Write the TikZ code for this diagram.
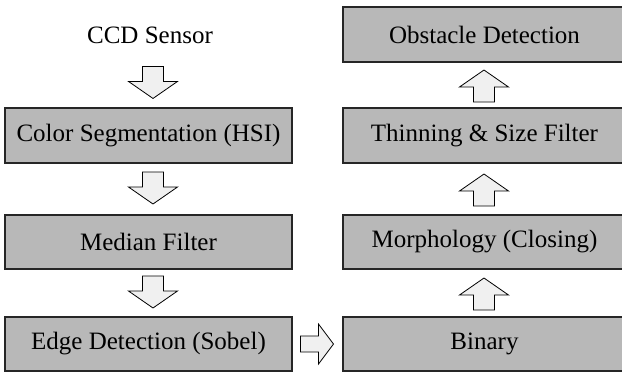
\documentclass[tikz,border=0pt]{standalone}
\usepackage{fontspec}
\setmainfont{Liberation Serif}
\usetikzlibrary{calc}
\tikzset{
  box/.style={draw=black!85, line width=1.1pt, fill=black!28, minimum height=55pt,
    inner sep=0pt, font=\fontsize{25}{28}\selectfont},
  leftbox/.style={box, minimum width=287pt},
  rightbox/.style={box, minimum width=283pt},
  arrowstyle/.style={draw=black, line width=0.8pt, fill=black!6, line join=miter},
  varrow/.pic={\path[arrowstyle] (-17,-10.5) -- (-2,-10.5) -- (-2,-24.5) -- (15,0)
      -- (-2,24.5) -- (-2,10.5) -- (-17,10.5) -- cycle;},
  harrow/.pic={\path[arrowstyle] (-17,-8) -- (1,-8) -- (1,-20) -- (16,0)
      -- (1,20) -- (1,8) -- (-17,8) -- cycle;}
}
\begin{document}
\begin{tikzpicture}[x=1pt,y=-1pt]
\useasboundingbox (0,0) rectangle (622,373);
\begin{scope}
\clip (0,0) rectangle (622,373);
% left column
\node[font=\fontsize{25}{28}\selectfont] (ccd) at (150,35) {CCD Sensor};
\node[leftbox] (cs) at (148.5,135.5) {Color Segmentation (HSI)};
\node[leftbox, minimum height=54pt] (med) at (148.5,242) {Median Filter};
\node[leftbox, minimum height=54pt] (edge) at (148.5,344) {Edge Detection (Sobel)};
% right column
\node[rightbox] (obs) at (484.5,34.5) {Obstacle Detection};
\node[rightbox] (thin) at (484.5,135.5) {Thinning \& Size Filter};
\node[rightbox, minimum height=54pt] (morph) at (484.5,242) {Morphology (Closing)};
\node[rightbox, minimum height=54pt] (bin) at (484.5,344) {Binary};
% arrows
\pic[rotate=-90] at ($(cs.north)+(4.5,-24)$) {varrow};
\pic[rotate=-90] at ($($(cs.south)!0.5!(med.north)$)+(4.5,0)$) {varrow};
\pic[rotate=-90] at ($($(med.south)!0.5!(edge.north)$)+(4.5,0)$) {varrow};
\pic[rotate=90] at ($($(thin.north)!0.5!(obs.south)$)+(-0.5,0)$) {varrow};
\pic[rotate=90] at ($($(morph.north)!0.5!(thin.south)$)+(-0.5,0)$) {varrow};
\pic[rotate=90] at ($($(bin.north)!0.5!(morph.south)$)+(-0.5,0)$) {varrow};
\pic at ($(edge.east)!0.5!(bin.west)$) {harrow};
\end{scope}
\end{tikzpicture}
\end{document}
